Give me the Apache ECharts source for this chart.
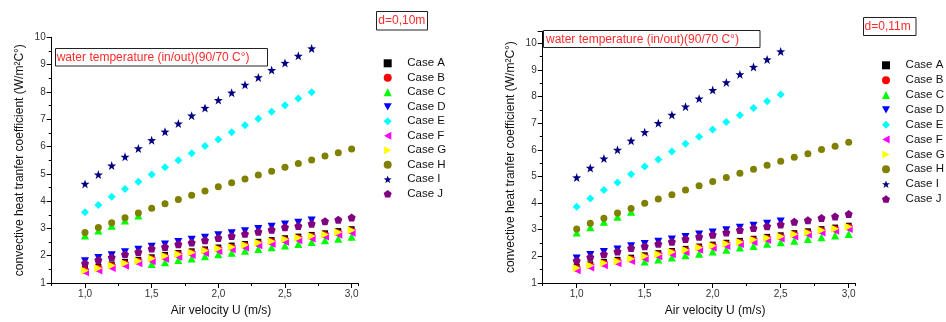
<!DOCTYPE html>
<html><head><meta charset="utf-8">
<script src="https://cdn.jsdelivr.net/npm/echarts@6/dist/echarts.min.js"></script>
<style>html,body{margin:0;padding:0;background:#fff}#c{width:946px;height:322px}</style>
</head><body><div id="c"></div>
<script>
// ---- data ----
const velocity = [1.0,1.1,1.2,1.3,1.4,1.5,1.6,1.7,1.8,1.9,2.0,2.1,2.2,2.3,2.4,2.5,2.6,2.7,2.8,2.9,3.0];
const xTickLabels = [1.0,1.5,2.0,2.5,3.0];
const caseNames = ['Case A','Case B','Case C','Case D','Case E','Case F','Case G','Case H','Case I','Case J'];

// d = 0,10 m
const A10 = [1.51,1.59,1.68,1.77,1.85,1.94,2.03,2.10,2.16,2.23,2.30,2.37,2.43,2.51,2.57,2.64,2.70,2.76,2.82,2.90,2.97];
const B10 = [1.47,1.55,1.63,1.71,1.80,1.89,1.97,2.05,2.11,2.18,2.25,2.31,2.38,2.45,2.52,2.58,2.65,2.71,2.77,2.84,2.91];
const C10 = [2.74,2.92,3.10,3.29,3.47,1.70,1.76,1.84,1.90,1.98,2.05,2.11,2.18,2.25,2.31,2.37,2.43,2.50,2.57,2.62,2.69];
const D10 = [1.80,1.92,2.02,2.13,2.22,2.33,2.41,2.50,2.58,2.66,2.75,2.82,2.90,2.98,3.06,3.14,3.21,3.29];
const E10 = [3.59,3.86,4.16,4.44,4.71,4.97,5.24,5.50,5.75,6.02,6.26,6.52,6.78,7.02,7.27,7.51,7.76,7.99];
const F10 = [1.39,1.46,1.55,1.63,1.72,1.80,1.89,1.96,2.03,2.10,2.17,2.24,2.30,2.38,2.44,2.51,2.57,2.63,2.70,2.77,2.84];
const G10 = [1.46,1.54,1.64,1.72,1.81,1.90,1.99,2.05,2.12,2.19,2.26,2.32,2.39,2.47,2.53,2.60,2.66,2.72,2.78,2.86,2.93];
const H10 = [2.85,3.03,3.21,3.39,3.56,3.74,3.90,4.06,4.21,4.37,4.53,4.67,4.81,4.96,5.09,5.24,5.38,5.51,5.65,5.77,5.91];
const I10 = [4.63,4.97,5.30,5.62,5.93,6.23,6.54,6.84,7.13,7.41,7.70,7.97,8.26,8.53,8.80,9.06,9.32,9.59];
const J10 = [1.72,1.84,1.94,2.05,2.14,2.26,2.32,2.42,2.48,2.57,2.65,2.72,2.80,2.88,2.95,3.04,3.09,3.17,3.26,3.32,3.40];

// d = 0,11 m
const A11 = [1.60,1.70,1.79,1.87,1.95,2.04,2.12,2.20,2.28,2.37,2.44,2.51,2.58,2.66,2.73,2.79,2.87,2.94,3.02,3.08,3.15];
const B11 = [1.55,1.65,1.74,1.82,1.90,1.99,2.07,2.15,2.23,2.32,2.39,2.46,2.53,2.61,2.68,2.74,2.82,2.89,2.97,3.03,3.10];
const C11 = [2.90,3.09,3.30,3.49,3.67,1.81,1.88,1.96,2.04,2.10,2.18,2.25,2.33,2.39,2.47,2.53,2.59,2.65,2.72,2.78,2.84];
const D11 = [1.92,2.05,2.16,2.26,2.38,2.46,2.55,2.63,2.73,2.82,2.90,2.98,3.07,3.15,3.22,3.31];
const E11 = [3.86,4.17,4.49,4.77,5.08,5.37,5.64,5.94,6.23,6.49,6.76,7.04,7.30,7.57,7.82,8.08];
const F11 = [1.48,1.58,1.67,1.74,1.83,1.92,2.00,2.08,2.16,2.25,2.32,2.39,2.46,2.54,2.61,2.67,2.75,2.82,2.90,2.96,3.03];
const G11 = [1.56,1.66,1.75,1.82,1.91,2.00,2.08,2.16,2.24,2.33,2.40,2.47,2.54,2.62,2.69,2.75,2.83,2.90,2.98,3.04,3.11];
const H11 = [3.03,3.24,3.43,3.63,3.80,3.99,4.15,4.31,4.49,4.65,4.81,4.96,5.12,5.27,5.42,5.57,5.72,5.85,6.01,6.13,6.28];
const I11 = [4.96,5.32,5.67,6.00,6.34,6.66,7.00,7.31,7.62,7.92,8.24,8.53,8.83,9.11,9.39,9.69];
const J11 = [1.84,1.97,2.08,2.18,2.31,2.38,2.47,2.55,2.65,2.74,2.81,2.90,2.99,3.06,3.13,3.20,3.30,3.36,3.44,3.50,3.59];

const set10 = [A10,B10,C10,D10,E10,F10,G10,H10,I10,J10];
const set11 = [A11,B11,C11,D11,E11,F11,G11,H11,I11,J11];

// ---- styles ----
const caseColors = ['#000000','#ff0000','#00ff00','#0000ff','#00ffff','#ff00ff','#ffff00','#808000','#000080','#800080'];
const STAR = 'path://M10,0L12.35,6.76L19.51,6.91L13.8,11.24L15.88,18.09L10,14L4.12,18.09L6.2,11.24L0.49,6.91L7.65,6.76Z';
const PENT = 'path://M10,0L19.51,6.91L15.88,18.09L4.12,18.09L0.49,6.91Z';
const caseSymbols = ['rect','circle','triangle','path://M0,0L10,0L5,9Z','diamond','path://M0,5L9,0L9,10Z','path://M0,0L9,5L0,10Z','circle',STAR,PENT];
const caseSizes = [6,7,8,8,8,8,8,7,9,8];
const FONT = '"Liberation Sans", Arial, sans-serif';

function pairs(vals){ return vals.map((v,i)=>[velocity[i], v]); }
const fmtX = v => v.toFixed(1).replace('.', ',');

function xMain(g){
  return {type:'value', gridIndex:g, min:0.75, max:3.05, interval:0.25, position:'bottom',
    axisLine:{show:true, onZero:false, lineStyle:{color:'#000', width:1}},
    axisTick:{show:true, length:3, lineStyle:{color:'#000'}},
    axisLabel:{customValues:xTickLabels, formatter:fmtX, fontSize:10, color:'#333', margin:6, fontFamily:FONT},
    splitLine:{show:false},
    name:'Air velocity U (m/s)', nameLocation:'middle', nameGap:22,
    nameTextStyle:{fontSize:12, color:'#111', fontFamily:FONT, padding:[0,0,0,32]}};
}
function xMajor(g){
  return {type:'value', gridIndex:g, min:0.75, max:3.05, interval:0.25, position:'bottom',
    axisLine:{show:false, onZero:false},
    axisTick:{show:true, length:5, customValues:xTickLabels, lineStyle:{color:'#000'}},
    axisLabel:{show:false}, splitLine:{show:false}};
}
function yAx(g, max){
  return {type:'value', gridIndex:g, min:1, max:max, interval:1,
    axisLine:{show:true, onZero:false, lineStyle:{color:'#000', width:1}},
    axisTick:{show:true, length:5, lineStyle:{color:'#000'}},
    minorTick:{show:true, splitNumber:2, length:3, lineStyle:{color:'#000'}},
    axisLabel:{formatter:v => Number.isInteger(Math.round(v*1000)/1000) ? String(Math.round(v)) : '', fontSize:10, color:'#333', margin:6, fontFamily:FONT},
    splitLine:{show:false},
    name:'convective heat tranfer coefficient (W/m²C°)', nameLocation:'middle', nameGap:26, nameRotate:90,
    nameTextStyle:{fontSize:12, color:'#111', fontFamily:FONT}};
}

const series = [];
[set10, set11].forEach((set, g) => {
  set.forEach((vals, k) => {
    series.push({type:'scatter', name:caseNames[k], xAxisIndex:g*2, yAxisIndex:g,
      symbol:caseSymbols[k], symbolSize:caseSizes[k],
      itemStyle:{color:caseColors[k], opacity:1}, data:pairs(vals), z:2+k});
  });
});

function legendCfg(left, top, gap){
  return {orient:'vertical', left:left, top:top, padding:0, itemWidth:8, itemHeight:8, itemGap:gap,
    data:caseNames, textStyle:{fontSize:11.5, color:'#111', fontFamily:FONT, padding:[0,0,0,10.6]}, selectedMode:false};
}

function box(x,y,w,h,text,tx,ty){
  return [
    {type:'rect', shape:{x:x,y:y,width:w,height:h}, style:{fill:'#fff', stroke:'#222', lineWidth:1}, z:100},
    {type:'text', x:tx, y:ty, style:{text:text, fill:'#ff2a2a', font:'12px '+FONT, verticalAlign:'middle', align:'left'}, z:101}
  ];
}

const chart = echarts.init(document.getElementById('c'), null, {renderer:'canvas'});
chart.setOption({
  animation:false,
  backgroundColor:'#fff',
  grid:[
    {left:51.7, top:37.3, width:306.6, height:249.4},
    {left:542.7, top:31.25, width:312.8, height:253.05}
  ],
  xAxis:[xMain(0), xMajor(0), xMain(1), xMajor(1)],
  yAxis:[yAx(0,10), yAx(1,10.45)],
  legend:[legendCfg(383.7, 57.3, 2.5), legendCfg(882, 59.3, 2.86)],
  series:series,
  graphic:[].concat(
    box(55.5,48.5,212,17.5,'water temperature (in/out)(90/70 C°)',56.7,57.6),
    box(543.5,30.5,216.5,17,'water temperature (in/out)(90/70 C°)',546,39.6),
    box(376.5,11.5,51,18.5,'d=0,10m',378.3,20.8),
    box(863.5,17.5,52.5,18,'d=0,11m',864.6,26.8)
  )
});
</script></body></html>
